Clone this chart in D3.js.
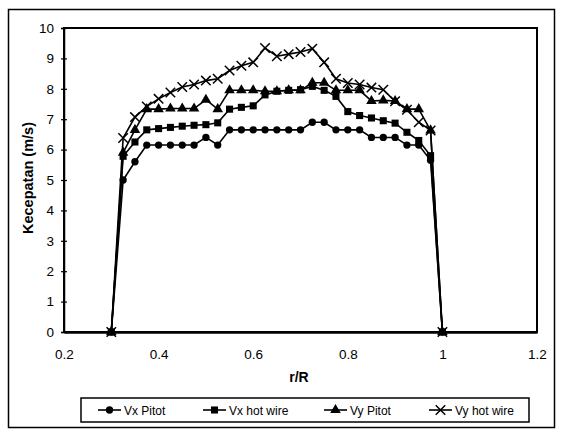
<!DOCTYPE html>
<html><head><meta charset="utf-8">
<script src="https://cdn.jsdelivr.net/npm/d3@7"></script>
<style>body{margin:0;background:#fff}svg{display:block}text{font-family:"Liberation Sans",Arial,sans-serif;fill:#000}</style>
</head><body>
<script>
const rR = [0.3,0.325,0.35,0.375,0.4,0.425,0.45,0.475,0.5,0.525,0.55,0.575,0.6,0.625,0.65,0.675,0.7,0.725,0.75,0.775,0.8,0.825,0.85,0.875,0.9,0.925,0.95,0.975,1.0];
const vxPitot = [0,5.0,5.6,6.15,6.15,6.15,6.15,6.15,6.4,6.15,6.65,6.65,6.65,6.65,6.65,6.65,6.65,6.9,6.9,6.65,6.65,6.65,6.4,6.4,6.4,6.15,6.15,5.65,0];
const vxHotWire = [0,5.78,6.25,6.65,6.69,6.73,6.77,6.8,6.82,6.88,7.33,7.39,7.44,7.8,7.92,7.95,7.97,8.08,7.95,7.75,7.25,7.12,7.04,6.95,6.87,6.57,6.3,5.8,0];
const vyPitot = [0,5.9,6.65,7.33,7.33,7.35,7.35,7.35,7.64,7.33,7.95,7.95,7.95,7.92,7.92,7.95,7.95,8.2,8.2,7.95,7.95,7.95,7.6,7.62,7.6,7.33,7.33,6.63,0];
const vyHotWire = [0,6.38,7.07,7.42,7.67,7.88,8.06,8.14,8.27,8.33,8.6,8.76,8.87,9.34,9.07,9.14,9.21,9.32,8.87,8.33,8.19,8.14,8.04,7.97,7.59,7.31,6.9,6.63,0];
const seriesNames = ["Vx Pitot","Vx hot wire","Vy Pitot","Vy hot wire"];
const yTicks = [0,1,2,3,4,5,6,7,8,9,10];
const xTicks = [0.2,0.4,0.6,0.8,1,1.2];
const xTickLabels = ["0.2","0.4","0.6","0.8","1","1.2"];

const W=563,H=440;
const svg=d3.select("body").append("svg").attr("width",W).attr("height",H);
svg.append("rect").attr("x",8.5).attr("y",9.5).attr("width",546).attr("height",418).attr("fill","none").attr("stroke","#000").attr("stroke-width",1.5);

const x=d3.scaleLinear().domain([0.2,1.2]).range([64,537]);
const y=d3.scaleLinear().domain([0,10]).range([332,28]);

svg.append("rect").attr("x",x(0.2)).attr("y",y(10)).attr("width",x(1.2)-x(0.2)).attr("height",y(0)-y(10))
  .attr("fill","none").attr("stroke","#000").attr("stroke-width",2);

const ya=svg.append("g").attr("transform",`translate(${x(0.2)},0)`)
  .call(d3.axisLeft(y).tickValues(yTicks).tickSize(3).tickPadding(7).tickFormat(d3.format("d")));
ya.select(".domain").attr("stroke-width",1.5);
ya.selectAll(".tick line").attr("x2",-3).attr("x1",3).attr("stroke-width",1.2);
ya.selectAll("text").attr("font-size",13.5).attr("font-family","Liberation Sans, Arial").style("fill","#000");

const xa=svg.append("g").attr("transform",`translate(0,${y(0)})`)
  .call(d3.axisBottom(x).tickValues(xTicks).tickSize(0).tickPadding(17).tickFormat((d,i)=>xTickLabels[i]));
xa.select(".domain").attr("stroke-width",2.5);
xa.selectAll("text").attr("font-size",13.5).attr("font-family","Liberation Sans, Arial").style("fill","#000");

svg.append("text").attr("x",299).attr("y",382).attr("text-anchor","middle").attr("font-size",14).attr("font-weight","bold").text("r/R");
svg.append("text").attr("transform",`translate(33,${(y(0)+y(10))/2 - 2}) rotate(-90)`).attr("text-anchor","middle").attr("font-size",14.5).attr("font-weight","bold").text("Kecepatan (m/s)");

const sets=[vxPitot,vxHotWire,vyPitot,vyHotWire];
const sym=[d3.symbol().type(d3.symbolCircle).size(42),
           d3.symbol().type(d3.symbolSquare).size(50),
           d3.symbol().type(d3.symbolTriangle).size(48),
           d3.symbol().type(d3.symbolTimes).size(60)];
const line=d3.line().x(d=>x(d[0])).y(d=>y(d[1]));
function drawMarker(g,i,px,py){
  const p=g.append("path").attr("d",sym[i]()).attr("transform",`translate(${px},${py})`);
  if(i===3) p.attr("fill","none").attr("stroke","#000").attr("stroke-width",1.5);
  else p.attr("fill","#000");
}
[3,2,1,0].forEach(i=>{
  const vals=sets[i];
  const pts=rR.map((r,k)=>[r,vals[k]]);
  const g=svg.append("g");
  g.append("path").attr("d",line(pts)).attr("fill","none").attr("stroke","#000").attr("stroke-width",1.6);
  pts.forEach(p=>drawMarker(g,i,x(p[0]),y(p[1])));
});

svg.append("rect").attr("x",81).attr("y",398).attr("width",448).attr("height",24).attr("fill","none").attr("stroke","#000").attr("stroke-width",1.5);
const legX=[98,203,324,429];
seriesNames.forEach((n,i)=>{
  const g=svg.append("g");
  g.append("line").attr("x1",legX[i]).attr("x2",legX[i]+23).attr("y1",410).attr("y2",410).attr("stroke","#000").attr("stroke-width",1.6);
  drawMarker(g,i,legX[i]+11.5,410);
  g.append("text").attr("x",legX[i]+26).attr("y",414.5).attr("font-size",12).text(n);
});
</script>
</body></html>
